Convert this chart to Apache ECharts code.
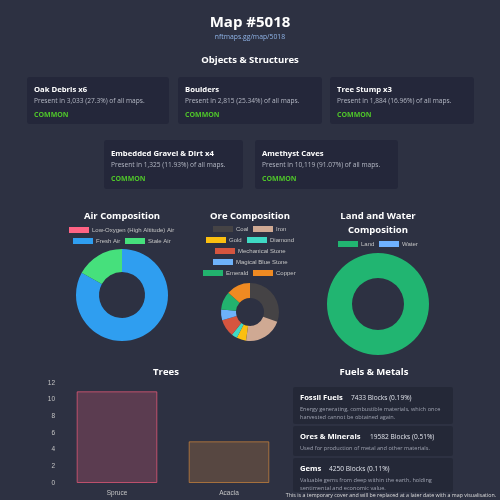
<!DOCTYPE html>
<html><head><meta charset="utf-8">
<script src="https://cdn.jsdelivr.net/npm/echarts@6/dist/echarts.min.js"></script>
<style>html,body{margin:0;padding:0;background:#2d3142;}#c{width:500px;height:500px;}</style>
</head><body><div id="c"></div>
<script>
// ---- data ----
const pageTitle = 'Map #5018';
const pageLink = 'nftmaps.gg/map/5018';
const objectNames = ['Oak Debris x6', 'Boulders', 'Tree Stump x3', 'Embedded Gravel & Dirt x4', 'Amethyst Caves'];
const objectCounts = ['3,033', '2,815', '1,884', '1,325', '10,119'];
const objectPercents = ['27.3%', '25.34%', '16.96%', '11.93%', '91.07%'];
const objectRarity = ['COMMON', 'COMMON', 'COMMON', 'COMMON', 'COMMON'];

const airLabels = ['Low-Oxygen (High Altitude) Air', 'Fresh Air', 'Stale Air'];
const airValues = [0, 83, 17];
const airColors = ['#ff6384', '#2f9ef0', '#46e07c'];

const oreLabels = ['Coal', 'Iron', 'Gold', 'Diamond', 'Mechanical Stone', 'Magical Blue Stone', 'Emerald', 'Copper'];
const oreValues = [30.5, 21.7, 5.3, 3.2, 9.7, 6.0, 10.2, 13.4];
const oreColors = ['#454345', '#cfa993', '#fbbf10', '#3fd9c4', '#d5553f', '#6eb2fa', '#22b26e', '#ef8a22'];

const landLabels = ['Land', 'Water'];
const landValues = [100, 0];
const landColors = ['#21b571', '#6fb1ff'];

const treeCategories = ['Spruce', 'Acacia'];
const treeValues = [11, 5];
const treeYMax = 12, treeYStep = 2;

const fuelNames = ['Fossil Fuels', 'Ores & Minerals', 'Gems'];
const fuelBlocks = ['7433 Blocks (0.19%)', '19582 Blocks (0.51%)', '4250 Blocks (0.11%)'];
const fuelDescs = [
  ['Energy generating, combustible materials, which once', 'harvested cannot be obtained again.'],
  ['Used for production of metal and other materials.'],
  ['Valuable gems from deep within the earth, holding', 'sentimental and economic value.']
];
const footerText = 'This is a temporary cover and will be replaced at a later date with a map visualisation.';

// ---- layout ----
const FONT = '"Open Sans", "Noto Sans", sans-serif';
const CFONT = '"Liberation Sans", Arial, sans-serif';
const g = [];
function txt(t, x, y, size, color, weight, align, family) {
  g.push({type:'text', silent:true, style:{text:t, x:x, y:y, fill:color,
    font:(weight||'normal') + ' ' + size + 'px ' + (family||FONT),
    textAlign:align||'left', textVerticalAlign:'middle'}});
}
function rect(x, y, w, h, color, r) {
  g.push({type:'rect', silent:true, shape:{x:x, y:y, width:w, height:h, r:r||3}, style:{fill:color}});
}

// headers
txt(pageTitle, 250, 23, 15, '#ffffff', 'bold', 'center');
txt(pageLink, 250, 37, 6.8, '#8fb3e6', 'normal', 'center');
txt('Objects & Structures', 250, 60, 9.5, '#ffffff', 'bold', 'center');

// object cards
const cardBoxes = [[27,77,142,47],[178,77,144,47],[330,77,144,47],[104,140,139,49],[255,140,143,49]];
objectNames.forEach(function(n, i) {
  const b = cardBoxes[i];
  rect(b[0], b[1], b[2], b[3], '#24273a', 3);
  const x = b[0] + 7;
  const y0 = b[1] + (i < 3 ? 13 : 14);
  txt(n, x, y0, 7.7, '#ffffff', 'bold');
  txt('Present in ' + objectCounts[i] + ' (' + objectPercents[i] + ') of all maps.', x, y0 + 11, 6.6, '#b4b8c4', 'normal');
  txt(objectRarity[i], x, y0 + 25, 7, '#4fc52a', 'bold');
});

// chart titles
txt('Air Composition', 122, 216, 9.5, '#ffffff', 'bold', 'center');
txt('Ore Composition', 250, 216, 9.5, '#ffffff', 'bold', 'center');
txt('Land and Water', 378, 216, 9.5, '#ffffff', 'bold', 'center');
txt('Composition', 378, 230, 9.5, '#ffffff', 'bold', 'center');
txt('Trees', 166, 372, 9.5, '#ffffff', 'bold', 'center');
txt('Fuels & Metals', 374, 372, 9.5, '#ffffff', 'bold', 'center');

// fuel cards
const fuelBoxes = [[293,387,160,37],[293,426,160,30],[293,458,160,34]];
const fuelBlockX = [351, 370, 329];
fuelNames.forEach(function(n, i) {
  const b = fuelBoxes[i];
  rect(b[0], b[1], b[2], b[3], 'rgba(30,33,48,0.55)', 2);
  txt(n, 300, b[1] + 11, 7.6, '#ffffff', 'bold');
  txt(fuelBlocks[i], fuelBlockX[i], b[1] + 11, 6.6, '#dfe2ea', 'normal');
  fuelDescs[i].forEach(function(l, k) {
    txt(l, 300, b[1] + 22 + k * 8, 5.6, '#9ea2b0', 'normal');
  });
});
txt(footerText, 391, 495, 5.3, '#dddddd', 'normal', 'center');

// legends
const legendTS = {color:'#c4c4c4', fontSize:6, fontFamily:CFONT, lineHeight:8, padding:[0,0,0,-2]};
function leg(name, x, y) {
  return {data:[name], left:x, top:y - 4, padding:0, itemWidth:20, itemHeight:6, icon:'rect',
    selectedMode:false, textStyle:legendTS, itemGap:0};
}
const legends = [
  leg(airLabels[0], 69, 230), leg(airLabels[1], 73, 241), leg(airLabels[2], 125, 241),
  leg(oreLabels[0], 213, 229), leg(oreLabels[1], 253, 229),
  leg(oreLabels[2], 206, 240), leg(oreLabels[3], 247, 240),
  leg(oreLabels[4], 215, 251), leg(oreLabels[5], 213, 262),
  leg(oreLabels[6], 203, 273), leg(oreLabels[7], 253, 273),
  leg(landLabels[0], 338, 244), leg(landLabels[1], 379, 244)
];

function pieData(labels, values, colors) {
  return labels.map(function(l, i) { return {name:l, value:values[i], itemStyle:{color:colors[i]}}; });
}
const pieCommon = {type:'pie', startAngle:90, clockwise:true, label:{show:false}, labelLine:{show:false},
  emphasis:{disabled:true}, silent:true, animation:false, avoidLabelOverlap:false, minAngle:0,
  stillShowZeroSum:true, itemStyle:{borderWidth:0}};

const option = {
  backgroundColor:'#2d3142',
  animation:false,
  graphic:{elements:g},
  legend:legends,
  grid:{left:61, right:215, top:383, bottom:17},
  xAxis:{type:'category', data:treeCategories, axisLine:{show:false}, axisTick:{show:false},
    axisLabel:{color:'#c4c4c4', fontSize:6.5, fontFamily:CFONT, margin:7}},
  yAxis:{type:'value', min:0, max:treeYMax, interval:treeYStep, axisLine:{show:false}, axisTick:{show:false},
    splitLine:{show:false}, axisLabel:{color:'#c4c4c4', fontSize:6.5, fontFamily:CFONT, margin:6}},
  series:[
    Object.assign({}, pieCommon, {name:'air', center:[122,295], radius:[23,46], data:pieData(airLabels, airValues, airColors)}),
    Object.assign({}, pieCommon, {name:'ore', center:[250,312], radius:[14,29], data:pieData(oreLabels, oreValues, oreColors)}),
    Object.assign({}, pieCommon, {name:'land', center:[378,304], radius:[26,51], data:pieData(landLabels, landValues, landColors)}),
    {type:'bar', name:'trees', barWidth:'72%', silent:true,
      data:treeValues.map(function(v, i) {
        return {value:v, itemStyle: i === 0
          ? {color:'rgba(255,99,132,0.22)', borderColor:'rgba(230,90,120,0.75)', borderWidth:1}
          : {color:'rgba(255,159,64,0.2)', borderColor:'rgba(220,140,60,0.65)', borderWidth:1}};
      })}
  ]
};
const chart = echarts.init(document.getElementById('c'), null, {renderer:'canvas'});
chart.setOption(option);
</script></body></html>
